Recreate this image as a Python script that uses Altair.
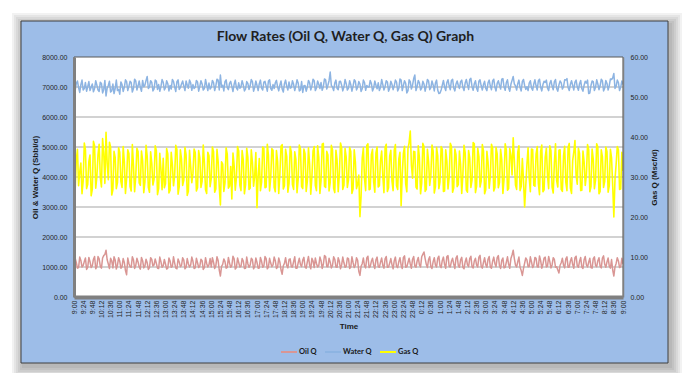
import altair as alt
import pandas as pd

# ---------------- data ----------------
TIME_LABELS = [
    "9:00", "9:24", "9:48", "10:12", "10:36", "11:00", "11:24", "11:48", "12:12", "12:36",
    "13:00", "13:24", "13:48", "14:12", "14:36", "15:00", "15:24", "15:48", "16:12", "16:36",
    "17:00", "17:24", "17:48", "18:12", "18:36", "19:00", "19:24", "19:48", "20:12", "20:36",
    "21:00", "21:24", "21:48", "22:12", "22:36", "23:00", "23:24", "23:48", "0:12", "0:36",
    "1:00", "1:24", "1:48", "2:12", "2:36", "3:00", "3:24", "3:48", "4:12", "4:36",
    "5:00", "5:24", "5:48", "6:12", "6:36", "7:00", "7:24", "7:48", "8:12", "8:36", "9:00",
]
LABEL_STEP_MIN = 24
SAMPLE_STEP_MIN = 6      # readings at 9:00, 9:06, ...
MID_OFFSET_MIN = 3       # readings at 9:03, 9:09, ...

# readings on the 6-minute marks
WATER_Q = [
    7050, 7120, 6980, 7080, 6900, 7150, 7010, 6880, 7100, 6950, 7060, 6850, 7120, 6920, 6700, 7050, 6830, 7100, 6950, 6880,
    6760, 7080, 6990, 7180, 7020, 7150, 6950, 7200, 7040, 6980, 7220, 7060, 7350, 7000, 7150, 6940, 7200, 7080, 7010, 7160,
    6980, 7110, 7050, 7250, 7000, 7180, 6920, 7100, 7030, 7200, 6960, 7140, 7080, 6990, 7170, 7020, 7100, 6950, 7060, 7130,
    6990, 7150, 7040, 7230, 7400, 7060, 7180, 6980, 7120, 7020, 7090, 6970, 7140, 7010, 7070, 6940, 7120, 7040, 7180, 6990,
    7050, 7110, 6960, 7160, 7030, 7200, 6950, 7080, 7140, 7000, 7060, 6930, 7110, 7020, 7170, 6980, 7090, 7040, 7130, 6900,
    6820, 7050, 6990, 7140, 7030, 7210, 6970, 7090, 7150, 7010, 7240, 7060, 7500, 7000, 7130, 6950, 7180, 7060, 7000, 7110,
    6960, 7080, 7030, 7190, 6990, 7100, 6940, 7150, 7050, 7000, 7120, 6970, 7060, 7140, 6990, 7080, 7020, 7170, 6960, 7090,
    7040, 7160, 6950, 7230, 7050, 7120, 6880, 7180, 7060, 7400, 7010, 7140, 6960, 7100, 7030, 7200, 6980, 7070, 7130, 6900,
    6800, 7060, 7000, 7150, 7040, 7220, 6970, 7100, 7050, 7180, 6990, 7130, 7070, 7250, 7010, 7110, 6960, 7190, 7040, 7080,
    6950, 7140, 7030, 7200, 6990, 7120, 7060, 7260, 7000, 7150, 6970, 7090, 7350, 7040, 7110, 6980, 7190, 7050, 7010, 7130,
    6970, 7100, 7040, 7210, 6990, 7080, 7150, 6960, 7120, 7030, 7180, 6950, 7070, 7140, 7010, 7230, 6980, 7090, 7050, 7160,
    7000, 7110, 6940, 7060, 7130, 6780, 7050, 7180, 6990, 7100, 7040, 7200, 6960, 7120, 7050, 7250, 7450, 7020, 7150, 6990,
    7080,
]
OIL_Q = [
    1080, 1150, 980, 1220, 1050, 1300, 990, 1180, 1040, 1350, 1010, 1270, 960, 1380, 1560, 1100, 1290, 970, 1230, 1060,
    1190, 1010, 1150, 740, 1120, 990, 1240, 1050, 1170, 930, 1210, 1030, 1140, 980, 1250, 1070, 1120, 950, 1180, 1040,
    1100, 960, 1200, 1020, 1130, 940, 1170, 1050, 1230, 990, 1110, 1060, 1190, 970, 1140, 1030, 1210, 980, 1120, 1070,
    1000, 1160, 1040, 1220, 700, 1090, 1180, 990, 1130, 1050, 1270, 980, 1150, 1020, 1200, 960, 1110, 1060, 1240, 1010,
    1150, 970, 1190, 1040, 1280, 1000, 1130, 1070, 1210, 990, 1160, 760, 1120, 1050, 1250, 1010, 1180, 960, 1140, 1080,
    1230, 1000, 1170, 1060, 1290, 980, 1120, 1040, 1210, 1090, 1350, 1010, 1160, 1050, 1260, 990, 1190, 1070, 1140, 1020,
    1280, 1000, 1150, 1060, 1220, 720, 1110, 1040, 1300, 980, 1190, 1070, 1240, 1010, 1160, 1050, 1270, 990, 1130, 1080,
    1210, 1020, 1180, 1060, 1320, 990, 1150, 1100, 1260, 1030, 1200, 1070, 1340, 1500, 1090, 1250, 1010, 1180, 1060, 1290,
    1040, 1220, 1080, 1350, 1020, 1190, 1100, 1300, 1050, 1240, 990, 1170, 1070, 1280, 1010, 1200, 1060, 1330, 1030, 1150,
    1080, 1260, 1000, 1190, 1110, 1310, 1040, 1220, 970, 1160, 1090, 1280, 1560, 1060, 1180, 990, 720, 1130, 1240, 1020,
    1170, 1060, 1290, 1000, 1210, 1090, 1330, 1030, 1180, 1070, 1250, 1010, 800, 1140, 1060, 1270, 990, 1200, 1080, 1310,
    1040, 1190, 1000, 1240, 1070, 1160, 980, 1280, 1050, 1210, 1020, 1300, 1090, 1170, 1030, 1250, 700, 1120, 1200, 1010,
    1100,
]
GAS_Q = [
    30.5, 34.2, 27.8, 33.5, 29.0, 36.8, 28.2, 35.5, 26.9, 37.8, 30.1, 38.2, 27.5, 36.0, 41.2, 29.3, 37.5, 26.8, 34.9, 28.6,
    36.2, 27.4, 33.8, 29.7, 35.9, 26.5, 32.8, 30.2, 36.4, 27.9, 34.1, 28.8, 35.2, 26.2, 33.4, 29.5, 36.6, 27.1, 31.9, 34.7,
    28.3, 35.8, 26.7, 33.1, 30.4, 36.9, 27.6, 34.5, 29.2, 35.6, 26.4, 32.7, 30.9, 36.1, 27.3, 34.8, 28.9, 33.6, 25.9, 35.3,
    29.6, 36.3, 27.0, 34.0, 23.0, 33.2, 28.5, 35.7, 27.7, 24.5, 32.9, 29.9, 36.5, 26.6, 34.3, 28.1, 35.0, 27.2, 33.7, 30.3,
    22.3, 34.6, 28.7, 37.2, 27.5, 35.4, 29.8, 36.7, 26.3, 33.9, 30.6, 38.1, 27.8, 35.1, 28.4, 36.2, 26.9, 34.4, 29.4, 37.0,
    27.1, 35.8, 28.9, 33.3, 30.0, 37.6, 26.6, 34.9, 29.1, 38.4, 27.4, 35.5, 28.6, 36.8, 26.1, 34.2, 30.7, 37.3, 27.9, 35.0,
    29.3, 36.4, 27.0, 33.8, 28.2, 20.1, 34.7, 29.6, 37.9, 26.8, 35.6, 28.8, 36.0, 27.5, 34.1, 30.2, 37.4, 26.4, 35.2, 29.0,
    36.7, 27.8, 34.5, 22.8, 35.9, 28.3, 37.1, 41.5, 29.7, 36.3, 27.0, 34.8, 28.5, 37.6, 26.9, 33.9, 30.4, 36.5, 27.6, 35.3,
    28.8, 36.9, 26.5, 34.0, 29.9, 37.7, 27.3, 35.6, 28.1, 33.2, 30.6, 36.1, 26.2, 34.7, 29.2, 38.3, 27.7, 35.1, 28.9, 36.6,
    26.8, 33.7, 30.1, 37.2, 27.4, 35.8, 28.6, 34.3, 29.5, 36.8, 27.1, 35.4, 39.8, 28.0, 36.2, 26.6, 34.6, 22.5, 33.1, 29.8,
    37.0, 27.9, 35.7, 28.4, 36.4, 26.3, 34.9, 30.3, 37.8, 27.5, 33.5, 29.1, 36.7, 26.9, 35.2, 28.7, 37.4, 27.2, 34.1, 39.1,
    28.2, 35.9, 26.7, 33.8, 30.5, 36.9, 27.6, 34.4, 29.3, 37.5, 26.4, 35.0, 28.9, 36.3, 27.8, 34.7, 20.0, 33.2, 36.8, 27.0,
    31.5,
]

# readings half-way between the 6-minute marks
WATER_Q_MID = [
    6880, 7200, 6820, 7230, 6950, 6860, 7180, 6990, 6840, 7210, 6900, 7160, 6800, 7220, 6960, 7190, 6870, 6780, 7230, 6920,
    7170, 6850, 7240, 6880, 7190, 6830, 7260, 6900, 7200, 6860, 7010, 7220, 6950, 7210, 6870, 7230, 6920, 6860, 7250, 6900,
    7210, 6870, 6930, 7190, 6850, 7240, 6980, 7200, 6880, 7060, 7230, 6890, 6950, 7220, 6860, 7210, 6900, 7250, 6880, 6930,
    7220, 6880, 7260, 6900, 7000, 6870, 7240, 6910, 7190, 6850, 7230, 6900, 6960, 7210, 6870, 7180, 6920, 7250, 6860, 7200,
    6880, 7230, 6900, 7190, 6860, 7240, 6890, 6950, 7220, 6870, 7200, 6830, 7230, 6900, 6960, 7210, 6880, 7240, 6870, 7180,
    7040, 6860, 7220, 6900, 7260, 6880, 7200, 6950, 6890, 7270, 6930, 7210, 7050, 6880, 7230, 6910, 7190, 6870, 7250, 6900,
    7210, 6860, 7240, 6900, 7180, 6850, 7230, 6890, 7000, 7220, 6870, 7200, 6940, 6880, 7250, 6900, 7210, 6860, 7190, 6910,
    7230, 6870, 7270, 6880, 7210, 6800, 7240, 6930, 7280, 6880, 7220, 6900, 7190, 6860, 7250, 6910, 7200, 6870, 7230, 6780,
    6900, 7220, 6880, 7240, 6910, 7260, 6870, 7200, 6950, 7230, 6880, 7250, 6920, 7290, 6890, 7210, 6860, 7240, 6900, 7190,
    6880, 7230, 6910, 7260, 6870, 7210, 6930, 7280, 6890, 7240, 6860, 7220, 7100, 6900, 7230, 6870, 7250, 6920, 6880, 7210,
    6890, 7240, 6900, 7260, 6870, 7190, 7230, 6880, 7220, 6910, 7250, 6860, 7200, 6930, 7240, 7280, 6880, 7210, 6900, 7230,
    6890, 7220, 6860, 7190, 7230, 6800, 7200, 6880, 7240, 6910, 7260, 6870, 7220, 6900, 7270, 7300, 6950, 7230, 6880, 7200,
]
OIL_Q_MID = [
    1290, 960, 1330, 1000, 1180, 920, 1320, 980, 1260, 940, 1350, 1020, 1300, 1420, 1240, 950, 1200, 1340, 930, 1310,
    960, 1280, 880, 1300, 1010, 1340, 950, 1290, 1000, 1320, 970, 1260, 920, 1310, 1030, 1270, 960, 1330, 990, 1250,
    930, 1300, 990, 1340, 960, 1270, 1010, 1310, 940, 1280, 1000, 1330, 950, 1290, 980, 1260, 920, 1310, 1000, 1280,
    1310, 950, 1340, 900, 1020, 1270, 960, 1320, 990, 1360, 930, 1300, 1000, 1280, 950, 1330, 990, 1290, 940, 1300,
    960, 1320, 990, 1350, 940, 1290, 1010, 1330, 950, 1300, 900, 1040, 1310, 970, 1270, 1000, 1340, 960, 1290, 1010,
    1320, 960, 1350, 940, 1200, 1300, 1000, 1330, 950, 1380, 1020, 1290, 970, 1340, 1000, 1310, 940, 1330, 990, 1300,
    950, 1340, 980, 1310, 860, 1020, 1300, 970, 1360, 1010, 1290, 950, 1330, 990, 1300, 960, 1350, 1000, 1280, 940,
    1330, 980, 1310, 950, 1370, 1010, 1290, 960, 1350, 990, 1320, 1000, 1420, 1280, 980, 1340, 950, 1310, 1000, 1360,
    980, 1330, 960, 1380, 1000, 1290, 950, 1370, 990, 1320, 940, 1300, 1010, 1360, 970, 1290, 1000, 1390, 960, 1310,
    990, 1350, 960, 1330, 1010, 1380, 950, 1300, 990, 1340, 960, 1400, 1280, 1000, 1330, 880, 950, 1300, 1010, 1340,
    980, 1320, 1010, 1370, 960, 1300, 1000, 1350, 970, 1310, 990, 900, 1060, 1290, 970, 1340, 1000, 1310, 960, 1360,
    990, 1320, 950, 1350, 1000, 1290, 960, 1340, 1010, 1310, 970, 1370, 990, 1300, 960, 900, 1000, 1310, 980, 1290,
]
GAS_Q_MID = [
    26.5, 36.9, 31.2, 25.8, 38.5, 27.1, 33.9, 25.3, 38.9, 27.2, 35.6, 29.8, 39.6, 28.4, 33.5, 38.7, 25.5, 36.4, 27.1, 37.3,
    28.9, 37.6, 25.9, 36.8, 27.6, 38.1, 26.3, 37.2, 28.5, 36.5, 26.1, 37.9, 27.4, 36.3, 28.0, 37.8, 25.6, 35.9, 26.8, 27.3,
    37.1, 26.0, 36.2, 27.8, 37.9, 25.7, 36.8, 27.9, 37.4, 25.4, 36.7, 28.6, 37.0, 26.5, 36.6, 27.4, 38.0, 26.8, 36.2, 27.6,
    37.5, 26.2, 36.9, 27.5, 33.8, 26.4, 37.3, 27.2, 32.6, 36.0, 26.7, 37.6, 27.9, 36.6, 25.8, 37.2, 26.9, 36.8, 27.7, 36.1,
    30.2, 26.6, 37.5, 27.3, 38.2, 26.5, 37.1, 27.4, 36.6, 25.9, 37.7, 27.0, 36.9, 26.2, 37.6, 28.1, 36.3, 26.1, 38.0, 27.6,
    37.0, 26.4, 37.3, 25.7, 36.5, 27.9, 37.8, 25.9, 38.2, 27.7, 36.4, 26.5, 37.9, 27.2, 36.7, 26.3, 38.5, 26.9, 37.1, 27.4,
    37.4, 25.9, 36.8, 27.1, 30.5, 25.2, 37.3, 26.6, 38.3, 27.0, 36.9, 26.2, 37.5, 27.8, 36.5, 26.1, 38.2, 27.3, 36.7, 26.6,
    38.1, 26.9, 36.2, 30.6, 37.7, 26.3, 38.6, 33.0, 36.4, 27.5, 37.8, 25.8, 38.4, 26.4, 36.9, 27.9, 38.0, 26.0, 37.4, 27.1,
    37.6, 26.4, 36.8, 27.0, 38.4, 26.2, 37.0, 27.6, 36.5, 25.9, 37.9, 26.8, 36.6, 27.4, 38.6, 26.1, 37.2, 27.5, 38.1, 25.8,
    36.4, 27.2, 38.2, 26.5, 37.4, 27.3, 36.9, 25.9, 38.3, 26.7, 37.1, 30.5, 34.2, 26.9, 37.8, 27.6, 29.1, 27.8, 37.3, 26.3,
    36.9, 27.7, 37.6, 25.6, 38.0, 26.8, 37.2, 27.1, 36.6, 26.0, 38.3, 27.5, 36.8, 26.4, 37.7, 26.6, 38.4, 25.9, 36.3, 30.4,
    37.2, 26.6, 36.5, 27.9, 38.1, 26.3, 37.0, 27.1, 38.3, 25.8, 36.8, 27.4, 37.5, 26.2, 36.9, 27.8, 29.5, 37.6, 26.9, 36.2,
]

LEFT_TICKS = [0, 1000, 2000, 3000, 4000, 5000, 6000, 7000, 8000]
RIGHT_TICKS = [0, 10, 20, 30, 40, 50, 60]
GRID_VALUES = [1000, 2000, 3000, 4000, 5000, 6000, 7000]
SERIES = ["Oil Q", "Water Q", "Gas Q"]
COLORS = ["#D99694", "#8DB4E2", "#FFFF00"]
TITLE = "Flow Rates (Oil Q, Water Q, Gas Q) Graph"

# ---------------- layout ----------------
W, H = 549, 240
FONT = "Liberation Sans"
CARD = (-53, 594, -36, 306)  # card rectangle relative to plot origin
SHADOW_SPREAD = [1, 3, 5, 7, 9, 11]

n = len(OIL_Q)
m = len(OIL_Q_MID)
t_main = [i * SAMPLE_STEP_MIN for i in range(n)]
t_mid = [i * SAMPLE_STEP_MIN + MID_OFFSET_MIN for i in range(m)]
tick_minutes = [k * LABEL_STEP_MIN for k in range(len(TIME_LABELS))]
label_expr = "[" + ",".join("'%s'" % t for t in TIME_LABELS) + "][round(datum.value/%d)]" % LABEL_STEP_MIN

ow_df = pd.DataFrame({
    "minute": t_main + t_mid + t_main + t_mid,
    "value": OIL_Q + OIL_Q_MID + WATER_Q + WATER_Q_MID,
    "series": ["Oil Q"] * (n + m) + ["Water Q"] * (n + m),
}).sort_values(["series", "minute"])
gas_df = pd.DataFrame({
    "minute": t_main + t_mid,
    "gas": GAS_Q + GAS_Q_MID,
    "series": ["Gas Q"] * (n + m),
}).sort_values("minute")
grid_df = pd.DataFrame({"v": GRID_VALUES})
one = pd.DataFrame({"a": [0]})

x_scale = alt.Scale(domain=[0, 1440], nice=False, zero=False)
left_scale = alt.Scale(domain=[0, 8000], nice=False)
right_scale = alt.Scale(domain=[0, 60], nice=False)
color_scale = alt.Scale(domain=SERIES, range=COLORS)

legend = alt.Legend(
    title=None, orient="none", legendX=206, legendY=286, direction="horizontal",
    symbolType="stroke", symbolStrokeWidth=2, symbolSize=256,
    labelFontSize=7.5, labelFontWeight="bold", labelColor="#1A1A1A", labelFont="Lato",
    columnPadding=4, labelOffset=1,
)

x_axis = alt.Axis(
    values=tick_minutes, labelExpr=label_expr, labelAngle=270, labelFontSize=7,
    labelColor="#262626", labelFont=FONT, labelPadding=3, ticks=False,
    domainColor="#808080", domainWidth=4, title="Time", titleFontSize=8,
    titleFontWeight="bold", titleFont=FONT, titleColor="#1A1A1A", titlePadding=5,
    grid=False, zindex=1, labelOverlap=False, labelFlush=False,
)
left_axis = alt.Axis(
    values=LEFT_TICKS, format=".2f", orient="left", labelFontSize=7, labelFont=FONT,
    labelColor="#262626", labelPadding=7, ticks=False, domainColor="#808080",
    domainWidth=3, title="Oil & Water Q (Sbbl/d)", titleFontSize=8,
    titleFontWeight="bold", titleFont=FONT, titleColor="#1A1A1A", titlePadding=2,
    grid=False, zindex=1,
)
right_axis = alt.Axis(
    values=RIGHT_TICKS, format=".2f", orient="right", labelFontSize=7, labelFont=FONT,
    labelColor="#262626", labelPadding=7, ticks=False, domainColor="#808080",
    domainWidth=1.5, title="Gas Q (Mscf/d)", titleAngle=270, titleFontSize=8,
    titleFontWeight="bold", titleFont=FONT, titleColor="#1A1A1A", titlePadding=11,
    grid=False, zindex=1,
)

x0, x1, y0, y1 = CARD
shadows = [
    alt.Chart(one).mark_rect(color="#000000", opacity=0.05).encode(
        x=alt.value(x0 + 2 - k), x2=alt.value(x1 + 3 + k),
        y=alt.value(y0 + 3 - k), y2=alt.value(y1 + 4 + k),
    )
    for k in SHADOW_SPREAD
]
card = alt.Chart(one).mark_rect(fill="#9DBDE8", stroke="#3F3F3F", strokeWidth=1).encode(
    x=alt.value(x0), x2=alt.value(x1), y=alt.value(y0), y2=alt.value(y1)
)
plot_bg = alt.Chart(one).mark_rect(fill="#FFFFFF").encode(
    x=alt.value(0), x2=alt.value(W), y=alt.value(0), y2=alt.value(H)
)
grid = alt.Chart(grid_df).mark_rule(color="#A6A6A6", strokeWidth=1.2).encode(
    y=alt.Y("v:Q", scale=left_scale, axis=None)
)
ow = alt.Chart(ow_df).mark_line(strokeWidth=1.5, strokeJoin="round").encode(
    x=alt.X("minute:Q", scale=x_scale, axis=x_axis),
    y=alt.Y("value:Q", scale=left_scale, axis=left_axis),
    color=alt.Color("series:N", scale=color_scale, legend=legend, sort=SERIES),
)
gas = alt.Chart(gas_df).mark_line(strokeWidth=1.6, strokeJoin="round").encode(
    x=alt.X("minute:Q", scale=x_scale, axis=x_axis),
    y=alt.Y("gas:Q", scale=right_scale, axis=right_axis),
    color=alt.Color("series:N", scale=color_scale, legend=legend, sort=SERIES),
)
frame = alt.Chart(one).mark_rect(fillOpacity=0, stroke="#595959", strokeWidth=1).encode(
    x=alt.value(0), x2=alt.value(W), y=alt.value(0), y2=alt.value(H)
)
title = alt.Chart(one).mark_text(
    font="Lato", fontSize=14, fontWeight="bold", color="#1F1F1F",
    align="center", baseline="middle",
).encode(x=alt.value(W / 2 - 3), y=alt.value(-20), text=alt.value(TITLE))

chart = alt.layer(
    *shadows, card, plot_bg, grid, ow, gas, frame, title
).resolve_scale(y="independent").properties(
    width=W, height=H,
    padding={"left": 66, "top": 49, "right": 59, "bottom": 76},
    autosize=alt.AutoSizeParams(type="none"),
).configure_view(stroke="transparent").configure(background="#FFFFFF")

chart.save("out.html", embed_options={"renderer": "svg", "actions": False})
